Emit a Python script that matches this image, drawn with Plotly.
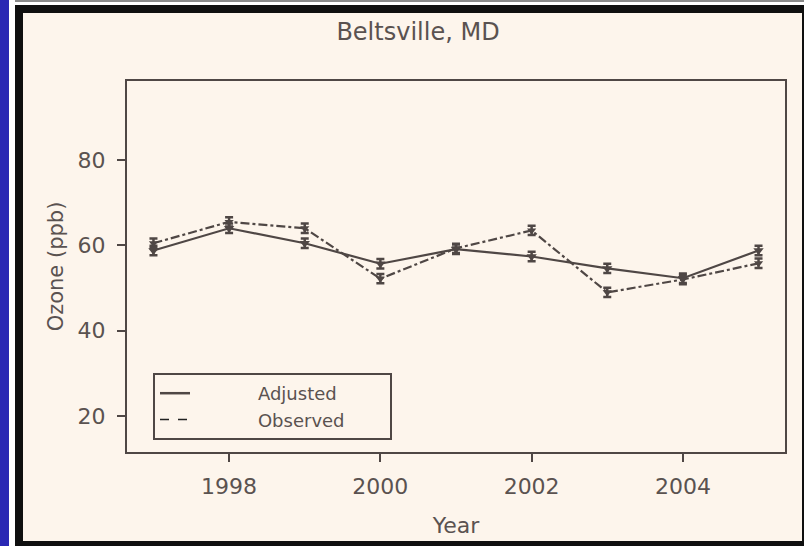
import plotly.graph_objects as go

years = [1997, 1998, 1999, 2000, 2001, 2002, 2003, 2004, 2005]
adjusted = [58.8, 64.0, 60.5, 55.7, 59.1, 57.4, 54.6, 52.3, 58.8]
observed = [60.5, 65.5, 64.0, 52.2, 59.3, 63.5, 49.0, 52.0, 55.8]
adjusted_err = [1.1] * 9
observed_err = [1.1] * 9
x_ticks = [1998, 2000, 2002, 2004]
y_ticks = [20, 40, 60, 80]

W, H = 804, 546
L, R, T, B = 127, 785, 81, 452  # plot-area pixel edges
LINE = "#4f4745"
TEXT = "#5a5250"
CREAM = "#fdf5ec"
FONT = "DejaVu Sans"
NB = "\u00a0"

def px(x):
    return (x - L) / (R - L)

def py(y):
    return (B - y) / (B - T)

fig = go.Figure()

fig.add_trace(go.Scatter(
    x=years, y=adjusted, mode="lines+markers", showlegend=False,
    line=dict(color=LINE, width=2.2),
    marker=dict(symbol="triangle-down", size=9, color=LINE),
    error_y=dict(type="data", array=adjusted_err, color=LINE, thickness=2.5, width=4),
))
fig.add_trace(go.Scatter(
    x=years, y=observed, mode="lines+markers", showlegend=False,
    line=dict(color=LINE, width=2.2, dash="dashdot"),
    marker=dict(symbol="triangle-down", size=8, color=LINE),
    error_y=dict(type="data", array=observed_err, color=LINE, thickness=2.5, width=4),
))
# legend-only entries
fig.add_trace(go.Scatter(x=[None], y=[None], mode="lines",
                         name=NB * 11 + "Adjusted" + NB * 7,
                         line=dict(color=LINE, width=2.5)))
fig.add_trace(go.Scatter(x=[None], y=[None], mode="lines",
                         name=NB * 11 + "Observed" + NB * 7,
                         line=dict(color="#222", width=1.5, dash="dash")))

shapes = [
    dict(type="rect", xref="paper", yref="paper", x0=px(0), x1=px(W), y0=py(H), y1=py(0),
         fillcolor="white", line=dict(width=0), layer="below"),
    dict(type="rect", xref="paper", yref="paper", x0=px(0), x1=px(9), y0=py(H), y1=py(0),
         fillcolor="#2a28b4", line=dict(width=0), layer="below"),
    dict(type="rect", xref="paper", yref="paper", x0=px(15), x1=px(W), y0=py(2), y1=py(0),
         fillcolor="#8a8a8a", line=dict(width=0), layer="below"),
    dict(type="rect", xref="paper", yref="paper", x0=px(15), x1=px(W), y0=py(H), y1=py(5),
         fillcolor="#0f0f0f", line=dict(width=0), layer="below"),
    dict(type="rect", xref="paper", yref="paper", x0=px(23), x1=px(802), y0=py(541), y1=py(13),
         fillcolor=CREAM, line=dict(width=0), layer="below"),
]
fig.update_layout(shapes=shapes)

fig.update_layout(
    width=W, height=H,
    margin=dict(l=L, r=W - R, t=T, b=H - B, pad=0),
    paper_bgcolor="white",
    plot_bgcolor=CREAM,
    font=dict(family=FONT, color=TEXT, size=22),
    title=dict(text="Beltsville, MD", x=px(418), xref="paper", xanchor="center",
               y=1 - 32 / H, yanchor="middle", font=dict(size=24, color=TEXT, family=FONT)),
    showlegend=True,
    legend=dict(
        x=px(153), y=py(373), xanchor="left", yanchor="top",
        xref="paper", yref="paper",
        bgcolor=CREAM, bordercolor=LINE, borderwidth=2,
        font=dict(size=18, color=TEXT, family=FONT),
        tracegroupgap=0,
    ),
)

fig.update_xaxes(
    range=[1996.65, 2005.35], tickvals=x_ticks, ticktext=[str(v) for v in x_ticks],
    showgrid=False, zeroline=False, showline=True, linecolor=LINE, linewidth=2, mirror=True,
    ticks="outside", ticklen=8, tickwidth=2, tickcolor=LINE, ticklabelstandoff=6,
    tickfont=dict(size=22, color=TEXT, family=FONT),
    title=dict(text="Year", font=dict(size=22, color=TEXT, family=FONT), standoff=19),
)
fig.update_yaxes(
    range=[11.6, 98.5], tickvals=y_ticks, ticktext=[str(v) for v in y_ticks],
    showgrid=False, zeroline=False, showline=True, linecolor=LINE, linewidth=2, mirror=True,
    ticks="outside", ticklen=8, tickwidth=2, tickcolor=LINE, ticklabelstandoff=7,
    tickfont=dict(size=22, color=TEXT, family=FONT),
    title=dict(text="Ozone (ppb)", font=dict(size=21, color=TEXT, family=FONT), standoff=8),
)

fig.write_html("out.html", config={"displayModeBar": False},
               post_script="document.body.style.margin='0';document.body.style.overflow='hidden';")
